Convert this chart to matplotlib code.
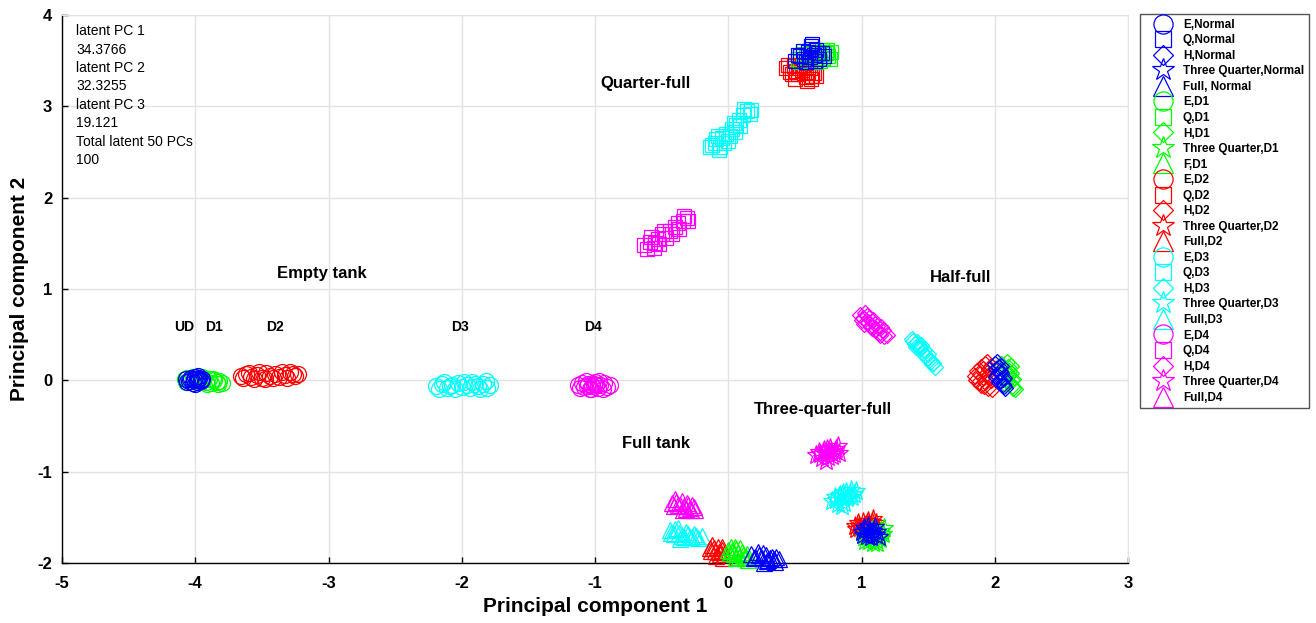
import matplotlib
matplotlib.use('Agg')
import matplotlib.pyplot as plt
from matplotlib.lines import Line2D

plt.rcParams['font.family'] = ['Liberation Sans', 'DejaVu Sans']
plt.rcParams['axes.unicode_minus'] = False

# ---- cluster data (PC1, PC2) ----
# Empty tank (circles)
E_NORMAL = [(-4.07, 0.02), (-4.05, -0.01), (-4.03, 0.03), (-4.01, 0.00), (-4.00, 0.04), (-3.99, -0.02),
            (-3.98, 0.01), (-3.97, 0.03), (-3.96, -0.01), (-3.95, 0.02), (-4.02, -0.03), (-3.99, 0.02),
            (-4.04, 0.01), (-4.00, -0.04), (-3.98, 0.05), (-4.06, -0.02), (-3.96, 0.00), (-4.01, 0.02)]
E_D1 = [(-4.08, 0.01), (-4.06, 0.03), (-4.04, -0.01), (-3.94, 0.02), (-3.92, -0.02), (-3.90, 0.01),
        (-3.88, -0.03), (-3.86, 0.00), (-3.84, -0.02), (-3.82, -0.01), (-3.80, -0.03), (-3.97, -0.02),
        (-4.02, 0.04), (-3.91, -0.04), (-3.87, 0.02), (-3.83, -0.04), (-3.95, 0.04), (-4.07, -0.02)]
E_D2 = [(-3.66, 0.05), (-3.62, 0.07), (-3.58, 0.04), (-3.54, 0.06), (-3.50, 0.03), (-3.47, 0.08), (-3.44, 0.05),
        (-3.40, 0.07), (-3.37, 0.04), (-3.33, 0.06), (-3.29, 0.09), (-3.25, 0.05), (-3.23, 0.07), (-3.48, 0.02),
        (-3.64, 0.03), (-3.60, 0.08), (-3.56, 0.02), (-3.52, 0.09), (-3.42, 0.03), (-3.35, 0.09), (-3.31, 0.03),
        (-3.27, 0.07)]
E_D3 = [(-2.19, -0.06), (-2.15, -0.04), (-2.11, -0.08), (-2.07, -0.05), (-2.03, -0.03), (-2.00, -0.07),
        (-1.96, -0.05), (-1.92, -0.02), (-1.88, -0.06), (-1.84, -0.04), (-1.81, -0.08), (-1.79, -0.05),
        (-2.17, -0.09), (-2.13, -0.02), (-2.09, -0.06), (-2.05, -0.09), (-1.98, -0.02), (-1.94, -0.08),
        (-1.90, -0.04), (-1.86, -0.09), (-1.82, -0.01)]
E_D4 = [(-1.13, -0.05), (-1.10, -0.03), (-1.08, -0.07), (-1.05, -0.04), (-1.02, -0.06), (-1.00, -0.02),
        (-0.98, -0.08), (-0.96, -0.05), (-0.93, -0.03), (-0.91, -0.07), (-0.89, -0.05), (-1.03, -0.09),
        (-1.11, -0.08), (-1.07, -0.01), (-1.04, -0.10), (-1.01, -0.04), (-0.97, -0.01), (-0.94, -0.09),
        (-0.99, -0.05), (-1.06, -0.06)]

# Quarter-full (squares)
Q_NORMAL = [(0.50, 3.50), (0.54, 3.55), (0.57, 3.52), (0.60, 3.60), (0.62, 3.66), (0.64, 3.56),
            (0.66, 3.62), (0.68, 3.52), (0.70, 3.58), (0.72, 3.55), (0.58, 3.48), (0.63, 3.68),
            (0.52, 3.56), (0.56, 3.61), (0.61, 3.54), (0.65, 3.50), (0.67, 3.58), (0.62, 3.63)]
Q_D1 = [(0.52, 3.52), (0.56, 3.57), (0.60, 3.50), (0.64, 3.55), (0.68, 3.60), (0.71, 3.53),
        (0.73, 3.58), (0.75, 3.55), (0.77, 3.60), (0.66, 3.48), (0.70, 3.62), (0.62, 3.58),
        (0.54, 3.49), (0.58, 3.54), (0.69, 3.50), (0.74, 3.62), (0.76, 3.52), (0.72, 3.57)]
Q_D2 = [(0.43, 3.42), (0.46, 3.38), (0.49, 3.44), (0.52, 3.35), (0.55, 3.40), (0.58, 3.32),
        (0.60, 3.38), (0.62, 3.30), (0.64, 3.36), (0.66, 3.33), (0.50, 3.30), (0.56, 3.45),
        (0.45, 3.45), (0.48, 3.35), (0.53, 3.42), (0.57, 3.36), (0.61, 3.42), (0.63, 3.33),
        (0.59, 3.28), (0.51, 3.39)]
Q_D3 = [(-0.14, 2.55), (-0.10, 2.60), (-0.07, 2.52), (-0.05, 2.65), (-0.02, 2.70), (0.00, 2.62), (0.03, 2.75),
        (0.06, 2.80), (0.08, 2.85), (0.11, 2.90), (0.14, 2.95), (0.17, 2.96), (-0.08, 2.68), (0.05, 2.72),
        (-0.12, 2.58), (-0.06, 2.56), (-0.03, 2.60), (0.01, 2.68), (0.04, 2.82), (0.09, 2.78), (0.12, 2.97),
        (0.16, 2.92), (-0.09, 2.64)]
Q_D4 = [(-0.63, 1.48), (-0.59, 1.52), (-0.56, 1.45), (-0.53, 1.55), (-0.50, 1.60), (-0.47, 1.56),
        (-0.44, 1.64), (-0.40, 1.68), (-0.37, 1.66), (-0.34, 1.75), (-0.31, 1.78), (-0.55, 1.50),
        (-0.61, 1.44), (-0.58, 1.57), (-0.52, 1.49), (-0.48, 1.63), (-0.42, 1.60), (-0.38, 1.72),
        (-0.33, 1.80), (-0.30, 1.74)]

# Half-full (diamonds)
H_NORMAL = [(2.00, 0.18), (2.01, 0.12), (2.02, 0.06), (2.03, 0.15), (2.04, 0.00), (2.05, 0.08),
            (2.06, -0.04), (2.07, 0.03), (2.08, -0.08), (2.02, 0.20), (2.01, 0.04), (2.03, -0.02),
            (2.05, 0.16), (2.07, -0.06), (2.04, 0.10), (2.06, 0.01)]
H_D1 = [(2.05, 0.18), (2.07, 0.12), (2.08, 0.05), (2.10, 0.15), (2.11, -0.02), (2.12, 0.08),
        (2.13, -0.06), (2.14, 0.02), (2.15, -0.10), (2.09, 0.20), (2.08, -0.04), (2.10, 0.06),
        (2.12, 0.16), (2.14, -0.08), (2.11, 0.10), (2.13, 0.00)]
H_D2 = [(1.85, 0.05), (1.87, 0.10), (1.88, -0.02), (1.90, 0.15), (1.91, 0.04), (1.92, -0.06),
        (1.93, 0.18), (1.94, 0.08), (1.95, -0.08), (1.96, 0.12), (1.97, 0.00), (1.98, -0.10),
        (1.86, 0.00), (1.89, 0.07), (1.91, 0.12), (1.93, -0.02), (1.95, 0.05), (1.97, 0.16),
        (1.90, -0.05), (1.94, 0.20)]
H_D3 = [(1.38, 0.45), (1.40, 0.40), (1.42, 0.42), (1.44, 0.35), (1.46, 0.30), (1.47, 0.33),
        (1.49, 0.25), (1.51, 0.22), (1.53, 0.18), (1.55, 0.15), (1.43, 0.38), (1.39, 0.43),
        (1.41, 0.36), (1.45, 0.39), (1.48, 0.28), (1.50, 0.29), (1.52, 0.21), (1.54, 0.19)]
H_D4 = [(0.99, 0.72), (1.01, 0.68), (1.03, 0.74), (1.05, 0.64), (1.07, 0.60), (1.09, 0.66),
        (1.11, 0.56), (1.13, 0.52), (1.15, 0.58), (1.17, 0.48), (1.19, 0.50), (1.04, 0.70),
        (1.00, 0.66), (1.02, 0.62), (1.06, 0.68), (1.08, 0.57), (1.10, 0.62), (1.12, 0.60),
        (1.14, 0.50), (1.16, 0.55)]

# Three-quarter-full (stars)
T_NORMAL = [(1.00, -1.66), (1.02, -1.62), (1.04, -1.70), (1.06, -1.64), (1.08, -1.68),
            (1.10, -1.61), (1.12, -1.66), (1.13, -1.72), (1.05, -1.60), (1.01, -1.69),
            (1.03, -1.64), (1.07, -1.72), (1.09, -1.65), (1.11, -1.69), (1.06, -1.67)]
T_D1 = [(1.02, -1.72), (1.04, -1.68), (1.06, -1.76), (1.08, -1.64), (1.10, -1.70),
        (1.12, -1.66), (1.14, -1.74), (1.16, -1.68), (1.17, -1.62), (1.09, -1.78),
        (1.05, -1.72), (1.07, -1.69), (1.11, -1.75), (1.13, -1.70), (1.15, -1.65),
        (1.03, -1.76), (1.12, -1.78), (1.08, -1.73)]
T_D2 = [(0.95, -1.60), (0.97, -1.56), (0.99, -1.62), (1.01, -1.55), (1.03, -1.59),
        (1.05, -1.54), (1.07, -1.58), (1.09, -1.52), (1.11, -1.56), (1.00, -1.65),
        (0.98, -1.59), (1.02, -1.61), (1.04, -1.56), (1.06, -1.60), (1.08, -1.55),
        (1.10, -1.59), (0.96, -1.63)]
T_D3 = [(0.78, -1.32), (0.80, -1.28), (0.82, -1.35), (0.84, -1.25), (0.86, -1.30), (0.88, -1.22),
        (0.90, -1.27), (0.92, -1.20), (0.94, -1.24), (0.96, -1.21), (0.85, -1.38), (0.81, -1.31),
        (0.83, -1.27), (0.87, -1.34), (0.89, -1.29), (0.91, -1.24), (0.93, -1.28), (0.86, -1.23)]
T_D4 = [(0.66, -0.82), (0.68, -0.78), (0.70, -0.85), (0.72, -0.76), (0.74, -0.80), (0.76, -0.74),
        (0.78, -0.83), (0.80, -0.77), (0.82, -0.72), (0.83, -0.80), (0.73, -0.88), (0.69, -0.81),
        (0.71, -0.79), (0.75, -0.84), (0.77, -0.78), (0.79, -0.81), (0.81, -0.75), (0.74, -0.75)]

# Full tank (triangles)
F_NORMAL = [(0.17, -1.90), (0.20, -1.93), (0.22, -1.88), (0.25, -1.95), (0.28, -1.91),
            (0.30, -1.97), (0.33, -1.93), (0.35, -1.99), (0.38, -1.96), (0.27, -2.00),
            (0.19, -1.94), (0.23, -1.91), (0.26, -1.89), (0.31, -1.94), (0.34, -1.96),
            (0.36, -1.93), (0.29, -1.98)]
F_D1 = [(0.00, -1.86), (0.02, -1.83), (0.04, -1.90), (0.06, -1.85), (0.08, -1.93),
        (0.10, -1.88), (0.12, -1.95), (0.14, -1.90), (0.15, -1.97), (0.05, -1.82),
        (0.01, -1.89), (0.03, -1.87), (0.07, -1.89), (0.09, -1.84), (0.11, -1.91),
        (0.13, -1.93), (0.06, -1.95)]
F_D2 = [(-0.14, -1.84), (-0.12, -1.80), (-0.10, -1.87), (-0.08, -1.83),
        (-0.06, -1.90), (-0.05, -1.86), (-0.04, -1.94), (-0.09, -1.92),
        (-0.13, -1.87), (-0.11, -1.84), (-0.07, -1.88), (-0.05, -1.82), (-0.03, -1.90)]
F_D3 = [(-0.44, -1.64), (-0.41, -1.68), (-0.38, -1.62), (-0.35, -1.70), (-0.32, -1.66),
        (-0.29, -1.72), (-0.26, -1.68), (-0.23, -1.73), (-0.20, -1.70), (-0.36, -1.74),
        (-0.43, -1.67), (-0.40, -1.63), (-0.37, -1.67), (-0.33, -1.72), (-0.30, -1.68),
        (-0.27, -1.71), (-0.24, -1.70)]
F_D4 = [(-0.42, -1.34), (-0.40, -1.30), (-0.38, -1.37), (-0.35, -1.32), (-0.33, -1.38),
        (-0.31, -1.34), (-0.29, -1.40), (-0.27, -1.36), (-0.25, -1.42), (-0.34, -1.42),
        (-0.41, -1.38), (-0.39, -1.33), (-0.36, -1.36), (-0.32, -1.41), (-0.30, -1.37),
        (-0.28, -1.42), (-0.26, -1.39)]

CONDITIONS = ['Normal', 'D1', 'D2', 'D3', 'D4']
COLORS = {'Normal': '#0000ff', 'D1': '#00ff00', 'D2': '#ff0000', 'D3': '#00ffff', 'D4': '#ff00ff'}
LEVELS = ['E', 'Q', 'H', 'T', 'F']
MARKERS = {'E': 'o', 'Q': 's', 'H': 'D', 'T': '*', 'F': '^'}
MSIZE = {'E': 11.5, 'Q': 10, 'H': 8.5, 'T': 14, 'F': 12}

DATA = {
    'E': [E_NORMAL, E_D1, E_D2, E_D3, E_D4],
    'Q': [Q_NORMAL, Q_D1, Q_D2, Q_D3, Q_D4],
    'H': [H_NORMAL, H_D1, H_D2, H_D3, H_D4],
    'T': [T_NORMAL, T_D1, T_D2, T_D3, T_D4],
    'F': [F_NORMAL, F_D1, F_D2, F_D3, F_D4],
}

LABELS = ['E,Normal', 'Q,Normal', 'H,Normal', 'Three Quarter,Normal', 'Full, Normal',
          'E,D1', 'Q,D1', 'H,D1', 'Three Quarter,D1', 'F,D1',
          'E,D2', 'Q,D2', 'H,D2', 'Three Quarter,D2', 'Full,D2',
          'E,D3', 'Q,D3', 'H,D3', 'Three Quarter,D3', 'Full,D3',
          'E,D4', 'Q,D4', 'H,D4', 'Three Quarter,D4', 'Full,D4']

fig = plt.figure(figsize=(13.16, 6.23), dpi=100)
ax = fig.add_axes([62 / 1316, 1 - 563 / 623, (1128 - 62) / 1316, (563 - 15) / 623])

# normal drawn last so it sits on top
for ci in reversed(range(len(CONDITIONS))):
    cond = CONDITIONS[ci]
    for lev in LEVELS:
        pts = DATA[lev][ci]
        xs = [p[0] for p in pts]
        ys = [p[1] for p in pts]
        ax.plot(xs, ys, linestyle='none', marker=MARKERS[lev], ms=MSIZE[lev],
                mfc='none', mec=COLORS[cond], mew=0.9, clip_on=False, zorder=3)

ax.set_xlim(-5, 3)
ax.set_ylim(-2, 4)
ax.set_xticks(range(-5, 4))
ax.set_yticks(range(-2, 5))
ax.grid(True, color='#e3e3e3', linewidth=1.0)
ax.set_axisbelow(True)
ax.tick_params(direction='in', length=4, width=1.0, top=False, right=False,
               labelsize=12, pad=7)
ax.tick_params(axis='x', pad=9)
for lbl in ax.get_xticklabels() + ax.get_yticklabels():
    lbl.set_fontweight('bold')
for side in ['top', 'right']:
    ax.spines[side].set_color('#e3e3e3')
for side in ['left', 'bottom']:
    ax.spines[side].set_color('black')
    ax.spines[side].set_linewidth(1.0)

ax.set_xlabel('Principal component 1', fontsize=15, fontweight='bold', labelpad=5)
ax.set_ylabel('Principal component 2', fontsize=15, fontweight='bold', labelpad=6)

# annotations
ANNOT = [('Quarter-full', -0.96, 3.25), ('Empty tank', -3.385, 1.17), ('Half-full', 1.516, 1.13),
         ('Three-quarter-full', 0.19, -0.32), ('Full tank', -0.80, -0.69),
         ('UD', -4.16, 0.58), ('D1', -3.925, 0.58), ('D2', -3.467, 0.58),
         ('D3', -2.079, 0.58), ('D4', -1.081, 0.58)]
for txt, x, y in ANNOT:
    fs = 12 if len(txt) > 2 else 10
    ax.text(x, y, txt, fontsize=fs, fontweight='bold', ha='left', va='center')

info = 'latent PC 1\n34.3766\nlatent PC 2\n32.3255\nlatent PC 3\n19.121\nTotal latent 50 PCs\n100'
ax.text(-4.895, 3.90, info, fontsize=10, ha='left', va='top', linespacing=1.4)

handles = []
for cond in CONDITIONS:
    for lev in LEVELS:
        handles.append(Line2D([], [], linestyle='none', marker=MARKERS[lev], ms=MSIZE[lev] * 1.2,
                              mfc='none', mec=COLORS[cond], mew=0.9))
leg = fig.legend(handles, LABELS, loc='upper left', bbox_to_anchor=(1140 / 1316, 1 - 14 / 623),
                 borderaxespad=0, prop={'size': 8.5, 'weight': 'bold'}, borderpad=0.4,
                 handlelength=3.1, handletextpad=0.14, labelspacing=0.30, fancybox=False,
                 framealpha=1, edgecolor='#555555')
leg.get_frame().set_linewidth(1.0)

fig.savefig('out.png', dpi=100)
